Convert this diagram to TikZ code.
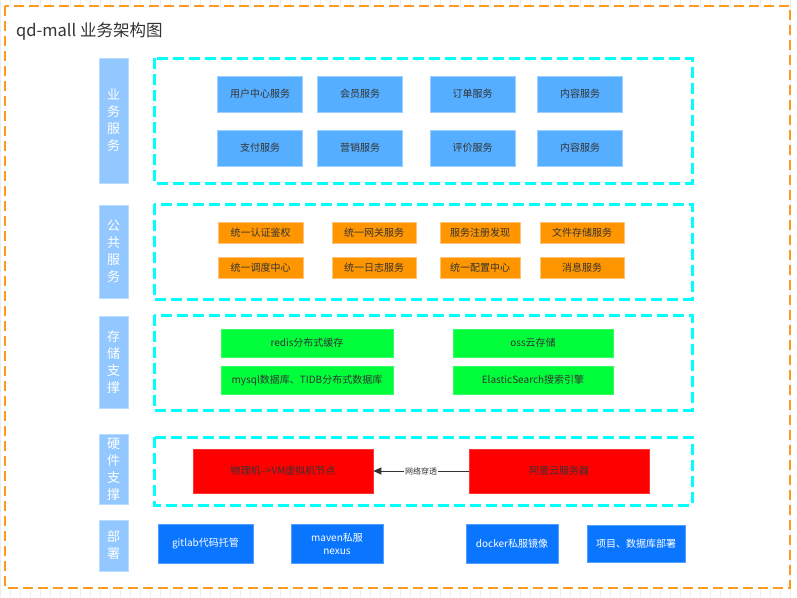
\documentclass[tikz,border=0pt]{standalone}
\usepackage{fontspec}
\setmainfont{Noto Sans CJK SC}
\usetikzlibrary{arrows.meta}
\definecolor{orangeframe}{HTML}{FF9A1F}
\definecolor{cyanline}{HTML}{00FFFF}
\definecolor{lblfill}{HTML}{92C8FF}
\definecolor{lbldraw}{HTML}{B8DCFF}
\definecolor{bizfill}{HTML}{55AEFF}
\definecolor{bizdraw}{HTML}{9ACFFF}
\definecolor{pubfill}{HTML}{FF9600}
\definecolor{pubdraw}{HTML}{FFC27A}
\definecolor{storfill}{HTML}{00FF3A}
\definecolor{hwfill}{HTML}{FF0000}
\definecolor{depfill}{HTML}{0A76FF}
\definecolor{txt}{HTML}{333333}
\tikzset{
  gridline/.style={draw=gray!14, line width=0.4pt},
  frame/.style={draw=orangeframe, line width=2.4pt, dash pattern=on 10pt off 5pt},
  grp/.style={draw=cyanline, line width=3pt, dash pattern=on 11pt off 5pt},
  lbl/.style={rectangle, fill=lblfill, draw=lbldraw, line width=0.8pt, text=white,
    minimum width=29pt, align=center, inner sep=0pt, font=\fontsize{13}{17}\selectfont},
  boxbase/.style={rectangle, inner sep=0pt, align=center, font=\fontsize{10}{13}\selectfont},
  bizbox/.style={boxbase, fill=bizfill, draw=bizdraw, line width=0.6pt, text=txt,
    minimum width=85pt, minimum height=36pt},
  pubbox/.style={boxbase, fill=pubfill, draw=pubdraw, line width=0.6pt, text=txt,
    minimum height=21pt},
  storbox/.style={boxbase, fill=storfill, draw=storfill!80!white, line width=0.6pt, text=txt,
    minimum height=28pt},
  hwbox/.style={boxbase, fill=hwfill, draw=hwfill!80!white, line width=0.6pt, text=txt,
    minimum width=180pt, minimum height=44pt},
  depbox/.style={boxbase, fill=depfill, draw=depfill!70!white, line width=0.6pt, text=white,
    minimum height=39pt},
  conn/.style={draw=txt, line width=1pt, -{Triangle[width=7pt,length=8pt]}},
  connlbl/.style={fill=white, inner sep=1pt, text=txt, font=\fontsize{8}{9}\selectfont}
}
\begin{document}
\begin{tikzpicture}[x=1pt,y=-1pt]
\useasboundingbox (0,0) rectangle (797,597);
% background grid
\draw[gridline, xstep=10, ystep=10] (0,0) grid (797,597);
% outer frame
\fill[white] (5,6) rectangle (790,588);
\draw[frame] (5,6) rectangle (790,588);
\node[anchor=west, text=txt, font=\fontsize{16.5}{19}\selectfont, inner sep=0pt] (title) at (16,31) {qd-mall 业务架构图};

% groups
\draw[grp] (154,58) rectangle (692,183);
\draw[grp] (154,204) rectangle (692,299);
\draw[grp] (154,315) rectangle (692,410);
\draw[grp] (154,437) rectangle (692,505);

% labels
\node[lbl, minimum height=125pt] (l1) at (113.5,120.5) {业\\务\\服\\务};
\node[lbl, minimum height=93pt] (l2) at (113.5,251.5) {公\\共\\服\\务};
\node[lbl, minimum height=92pt] (l3) at (113.5,362) {存\\储\\支\\撑};
\node[lbl, minimum height=70pt] (l4) at (113.5,469) {硬\\件\\支\\撑};
\node[lbl, minimum height=51pt] (l5) at (113.5,545.5) {部\\署};

% business services
\node[bizbox] (b1) at (260,94) {用户中心服务};
\node[bizbox] (b2) at (360,94) {会员服务};
\node[bizbox] (b3) at (472.5,94) {订单服务};
\node[bizbox] (b4) at (580,94) {内容服务};
\node[bizbox] (b5) at (260,148) {支付服务};
\node[bizbox] (b6) at (360,148) {营销服务};
\node[bizbox] (b7) at (472.5,148) {评价服务};
\node[bizbox] (b8) at (580,148) {内容服务};

% public services
\node[pubbox, minimum width=85pt] (p1) at (260.5,232.5) {统一认证鉴权};
\node[pubbox, minimum width=84pt] (p2) at (374,232.5) {统一网关服务};
\node[pubbox, minimum width=80pt] (p3) at (480,232.5) {服务注册发现};
\node[pubbox, minimum width=84pt] (p4) at (582,232.5) {文件存储服务};
\node[pubbox, minimum width=85pt] (p5) at (260.5,267.5) {统一调度中心};
\node[pubbox, minimum width=84pt] (p6) at (374,267.5) {统一日志服务};
\node[pubbox, minimum width=80pt] (p7) at (480,267.5) {统一配置中心};
\node[pubbox, minimum width=84pt] (p8) at (582,267.5) {消息服务};

% storage
\node[storbox, minimum width=172pt] (s1) at (307,343) {redis分布式缓存};
\node[storbox, minimum width=160pt] (s2) at (533,343) {oss云存储};
\node[storbox, minimum width=172pt] (s3) at (307,380) {mysql数据库、TIDB分布式数据库};
\node[storbox, minimum width=160pt] (s4) at (533,380) {ElasticSearch搜索引擎};

% hardware
\node[hwbox] (h1) at (283,471) {物理机-->VM虚拟机节点};
\node[hwbox] (h2) at (559,471) {阿里云服务器};
\draw[conn] (h2.west) -- node[connlbl] {网络穿透} (h1.east);

% deploy
\node[depbox, minimum width=95pt] (d1) at (205.5,543.5) {gitlab代码托管};
\node[depbox, minimum width=92pt] (d2) at (337,543.5) {maven私服\\nexus};
\node[depbox, minimum width=92pt] (d3) at (512,543.5) {docker私服镜像};
\node[depbox, minimum width=98pt, minimum height=37pt] (d4) at (636,543.5) {项目、数据库部署};
\end{tikzpicture}
\end{document}
